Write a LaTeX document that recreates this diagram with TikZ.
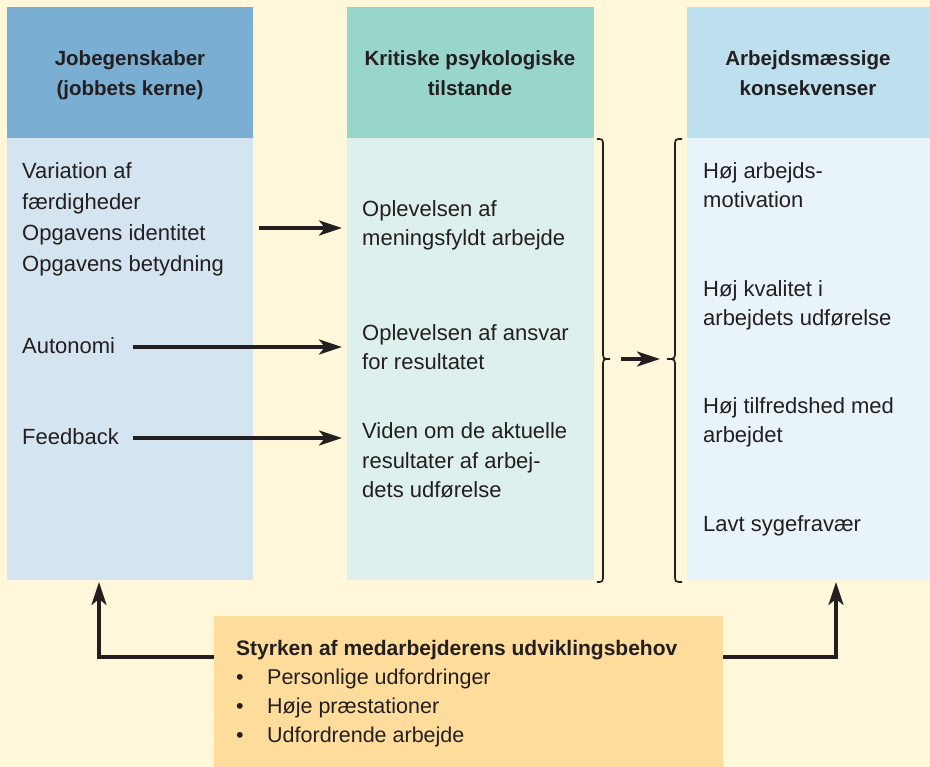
\documentclass[tikz,border=0pt]{standalone}
\usepackage{fontspec}
\setmainfont{Liberation Sans}
\usetikzlibrary{arrows.meta}
\definecolor{bg}{HTML}{FFF7DA}
\definecolor{lhead}{HTML}{7AAFD3}
\definecolor{lbodyc}{HTML}{D4E4F0}
\definecolor{mhead}{HTML}{98D5CB}
\definecolor{mbodyc}{HTML}{DEF0ED}
\definecolor{rhead}{HTML}{BEDFEE}
\definecolor{rbodyc}{HTML}{E8F4FA}
\definecolor{botc}{HTML}{FEDD9C}
\definecolor{ink}{HTML}{231F20}
\begin{document}
\begin{tikzpicture}[x=1pt,y=-1pt,
  panel/.style={draw=none,inner sep=0pt,anchor=north west},
  hd/.style={font=\fontsize{20.5}{24}\selectfont\bfseries,text=ink,inner sep=0pt,anchor=base},
  tx/.style={font=\fontsize{22}{26}\selectfont,text=ink,inner sep=0pt,anchor=base west},
  btx/.style={font=\fontsize{21.5}{26}\selectfont,text=ink,inner sep=0pt,anchor=base west},
  arr/.style={draw=ink,line width=3.2pt,-{Stealth[length=23pt,width=15pt,inset=6pt]}},
  brc/.style={draw=ink,line width=1.7pt}]
\fill[bg] (0,0) rectangle (930,767);
\useasboundingbox (0,0) rectangle (930,767);
% panels
\node[panel,fill=lhead,minimum width=246pt,minimum height=131pt] (lh) at (7,7) {};
\node[panel,fill=lbodyc,minimum width=246pt,minimum height=442pt] (lb) at (7,138) {};
\node[panel,fill=mhead,minimum width=247pt,minimum height=131pt] (mh) at (347,7) {};
\node[panel,fill=mbodyc,minimum width=247pt,minimum height=442pt] (mb) at (347,138) {};
\node[panel,fill=rhead,minimum width=243pt,minimum height=131pt] (rh) at (687,7) {};
\node[panel,fill=rbodyc,minimum width=243pt,minimum height=442pt] (rb) at (687,138) {};
\node[panel,fill=botc,minimum width=509pt,minimum height=151pt] (bot) at (214,616) {};
% headers
\node[hd] (lh1) at (130,66) {Jobegenskaber};
\node[hd] (lh2) at (130,96) {(jobbets kerne)};
\node[hd] (mh1) at (470,66) {Kritiske psykologiske};
\node[hd] (mh2) at (470,96) {tilstande};
\node[hd] (rh1) at (808,66) {Arbejdsmæssige};
\node[hd] (rh2) at (808,96) {konsekvenser};
% left texts
\node[tx] (l1) at (22,179) {Variation af};
\node[tx] (l2) at (22,210) {færdigheder};
\node[tx] (l3) at (22,241) {Opgavens identitet};
\node[tx] (l4) at (22,272) {Opgavens betydning};
\node[tx] (l5) at (22,354) {Autonomi};
\node[tx] (l6) at (22,445) {Feedback};
% middle texts
\node[tx] (m1) at (362,217) {Oplevelsen af};
\node[tx] (m2) at (362,246) {meningsfyldt arbejde};
\node[tx] (m3) at (362,341) {Oplevelsen af ansvar};
\node[tx] (m4) at (362,370) {for resultatet};
\node[tx] (m5) at (362,439) {Viden om de aktuelle};
\node[tx] (m6) at (362,468) {resultater af arbej-};
\node[tx] (m7) at (362,497) {dets udførelse};
% right texts
\node[tx] (r1) at (703,179) {Høj arbejds-};
\node[tx] (r2) at (703,208) {motivation};
\node[tx] (r3) at (703,297) {Høj kvalitet i};
\node[tx] (r4) at (703,326) {arbejdets udførelse};
\node[tx] (r5) at (703,414) {Høj tilfredshed med};
\node[tx] (r6) at (703,443) {arbejdet};
\node[tx] (r7) at (703,531) {Lavt sygefravær};
% bottom texts
\node[btx,font=\fontsize{21}{26}\selectfont\bfseries] (b0) at (236,655) {Styrken af medarbejderens udviklingsbehov};
\node[btx] (bb1) at (236,684) {•};
\node[btx] (b1) at (267,684) {Personlige udfordringer};
\node[btx] (bb2) at (236,713) {•};
\node[btx] (b2) at (267,713) {Høje præstationer};
\node[btx] (bb3) at (236,742) {•};
\node[btx] (b3) at (267,742) {Udfordrende arbejde};
% arrow coordinates
\coordinate (a1s) at (259,228);
\coordinate (a1e) at (342,228);
\coordinate (a2s) at (133,347);
\coordinate (a2e) at (342,347);
\coordinate (a3s) at (133,438);
\coordinate (a3e) at (342,438);
\coordinate (a4s) at (621,359);
\coordinate (a4e) at (660,359);
\coordinate (bl) at (214,657);
\coordinate (br) at (723,657);
\coordinate (blt) at (99,582);
\coordinate (brt) at (836,582);
\draw[arr] (a1s) -- (a1e);
\draw[arr] (a2s) -- (a2e);
\draw[arr] (a3s) -- (a3e);
\draw[arr] (a4s) -- (a4e);
\draw[arr] (bl) -| (blt);
\draw[arr] (br) -| (brt);
% braces
\draw[brc] (597,139) .. controls (603,139) .. (603,147) -- (603,351)
  .. controls (603,359) .. (610,359) .. controls (603,359) .. (603,367)
  -- (603,574) .. controls (603,582) .. (597,582);
\draw[brc] (682,139) .. controls (675,139) .. (675,147) -- (675,351)
  .. controls (675,359) .. (667,359) .. controls (675,359) .. (675,367)
  -- (675,574) .. controls (675,582) .. (682,582);
\end{tikzpicture}
\end{document}
